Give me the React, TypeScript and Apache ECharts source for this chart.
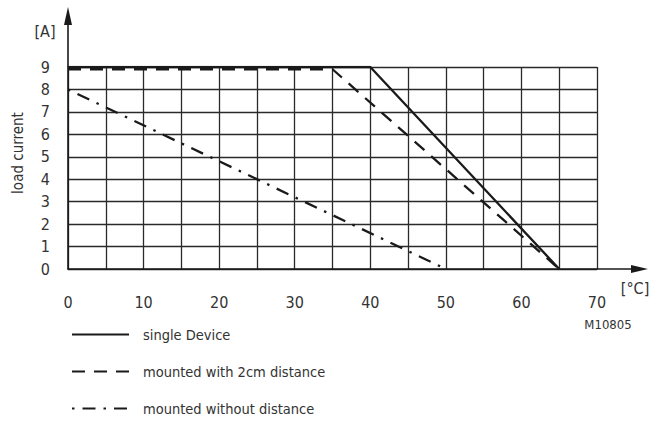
import React, { useEffect, useRef } from "react";
import * as echarts from "echarts";

// ---- data ----
const seriesNames = ["single Device", "mounted with 2cm distance", "mounted without distance"];
const singleDeviceX = [0, 40, 65];
const singleDeviceY = [9, 9, 0];
const with2cmX = [0, 35, 65];
const with2cmY = [8.9, 8.9, 0];
const withoutDistX = [0, 50];
const withoutDistY = [8, 0];
const xLabeledTicks = [0, 10, 20, 30, 40, 50, 60, 70];
const xMin = 0, xMax = 70, xStep = 5;
const yMin = 0, yMax = 9, yStep = 1;
const yUnit = "[A]";
const yTitle = "load current";
const xUnit = "[°C]";
const figureCode = "M10805";

const FONT = '"DejaVu Sans Condensed", "DejaVu Sans", sans-serif';
const INK = "#1a1a1a";
const TXT = "#333";

const zip = (xs: number[], ys: number[]) => xs.map((x, i) => [x, ys[i]]);

export default function App() {
  const ref = useRef<HTMLDivElement>(null);
  useEffect(() => {
    document.body.style.margin = "0";
    const chart = echarts.init(ref.current!, null, { renderer: "svg" });
    const option: any = {
      animation: false,
      backgroundColor: "#fff",
      grid: { left: 68, right: 59, top: 67, bottom: 152, containLabel: false },
      xAxis: {
        type: "value",
        min: xMin,
        max: xMax,
        interval: xStep,
        axisLine: { show: true, lineStyle: { color: INK, width: 1.6 } },
        axisTick: { show: false },
        splitLine: { show: true, lineStyle: { color: "#2a2a2a", width: 1.3 } },
        axisLabel: {
          margin: 25,
          fontFamily: FONT,
          fontSize: 16,
          color: TXT,
          formatter: (v: number) => (xLabeledTicks.includes(v) ? String(v) : ""),
        },
      },
      yAxis: {
        type: "value",
        min: yMin,
        max: yMax,
        interval: yStep,
        axisLine: { show: true, lineStyle: { color: INK, width: 1.6 } },
        axisTick: { show: false },
        splitLine: { show: true, lineStyle: { color: "#2a2a2a", width: 1.3 } },
        axisLabel: { margin: 18, fontFamily: FONT, fontSize: 16, color: TXT },
      },
      legend: {
        orient: "vertical",
        left: 71,
        top: 327,
        padding: 0,
        itemWidth: 57,
        itemHeight: 14,
        itemGap: 22,
        selectedMode: false,
        itemStyle: { opacity: 0 },
        textStyle: { fontFamily: FONT, fontSize: 14.5, color: TXT, padding: [0, 0, 0, 9] },
        data: seriesNames,
      },
      series: [
        {
          name: seriesNames[0],
          type: "line",
          symbol: "none",
          data: zip(singleDeviceX, singleDeviceY),
          lineStyle: { color: INK, width: 2.3, type: "solid" },
          itemStyle: { color: INK },
          z: 5,
        },
        {
          name: seriesNames[1],
          type: "line",
          symbol: "none",
          data: zip(with2cmX, with2cmY),
          lineStyle: { color: INK, width: 2.3, type: [13, 9] },
          itemStyle: { color: INK },
          z: 4,
        },
        {
          name: seriesNames[2],
          type: "line",
          symbol: "none",
          data: zip(withoutDistX, withoutDistY),
          lineStyle: { color: INK, width: 2.3, type: [13, 8, 2.5, 8], dashOffset: 21 },
          itemStyle: { color: INK },
          z: 3,
        },
      ],
    };
    chart.setOption(option);

    const o = chart.convertToPixel({ gridIndex: 0 }, [xMin, yMin]) as number[];
    const t = chart.convertToPixel({ gridIndex: 0 }, [xMin, yMax]) as number[];
    const r = chart.convertToPixel({ gridIndex: 0 }, [xMax, yMin]) as number[];
    const yTip = 7;
    const xTip = 648;
    chart.setOption({
      graphic: [
        { type: "line", shape: { x1: o[0], y1: t[1], x2: o[0], y2: yTip + 14 }, style: { stroke: INK, lineWidth: 1.6 } },
        { type: "polygon", shape: { points: [[o[0] - 4, yTip + 18], [o[0] + 4, yTip + 18], [o[0], yTip]] }, style: { fill: INK } },
        { type: "line", shape: { x1: r[0], y1: o[1], x2: xTip - 14, y2: o[1] }, style: { stroke: INK, lineWidth: 1.6 } },
        { type: "polygon", shape: { points: [[xTip - 17, o[1] - 4], [xTip - 17, o[1] + 4], [xTip, o[1]]] }, style: { fill: INK } },
        { type: "text", x: 45, y: 31, style: { text: yUnit, font: `16px ${FONT}`, fill: TXT, align: "center", verticalAlign: "middle" } },
        { type: "text", x: 18, y: 153, rotation: Math.PI / 2, style: { text: yTitle, font: `15px ${FONT}`, fill: TXT, align: "center", verticalAlign: "middle" } },
        { type: "text", x: 635, y: 288, style: { text: xUnit, font: `16px ${FONT}`, fill: TXT, align: "center", verticalAlign: "middle" } },
        { type: "text", x: 608, y: 324, style: { text: figureCode, font: `13px ${FONT}`, fill: TXT, align: "center", verticalAlign: "middle" } },
      ],
    });
    return () => chart.dispose();
  }, []);
  return <div ref={ref} style={{ width: 656, height: 421 }} />;
}
